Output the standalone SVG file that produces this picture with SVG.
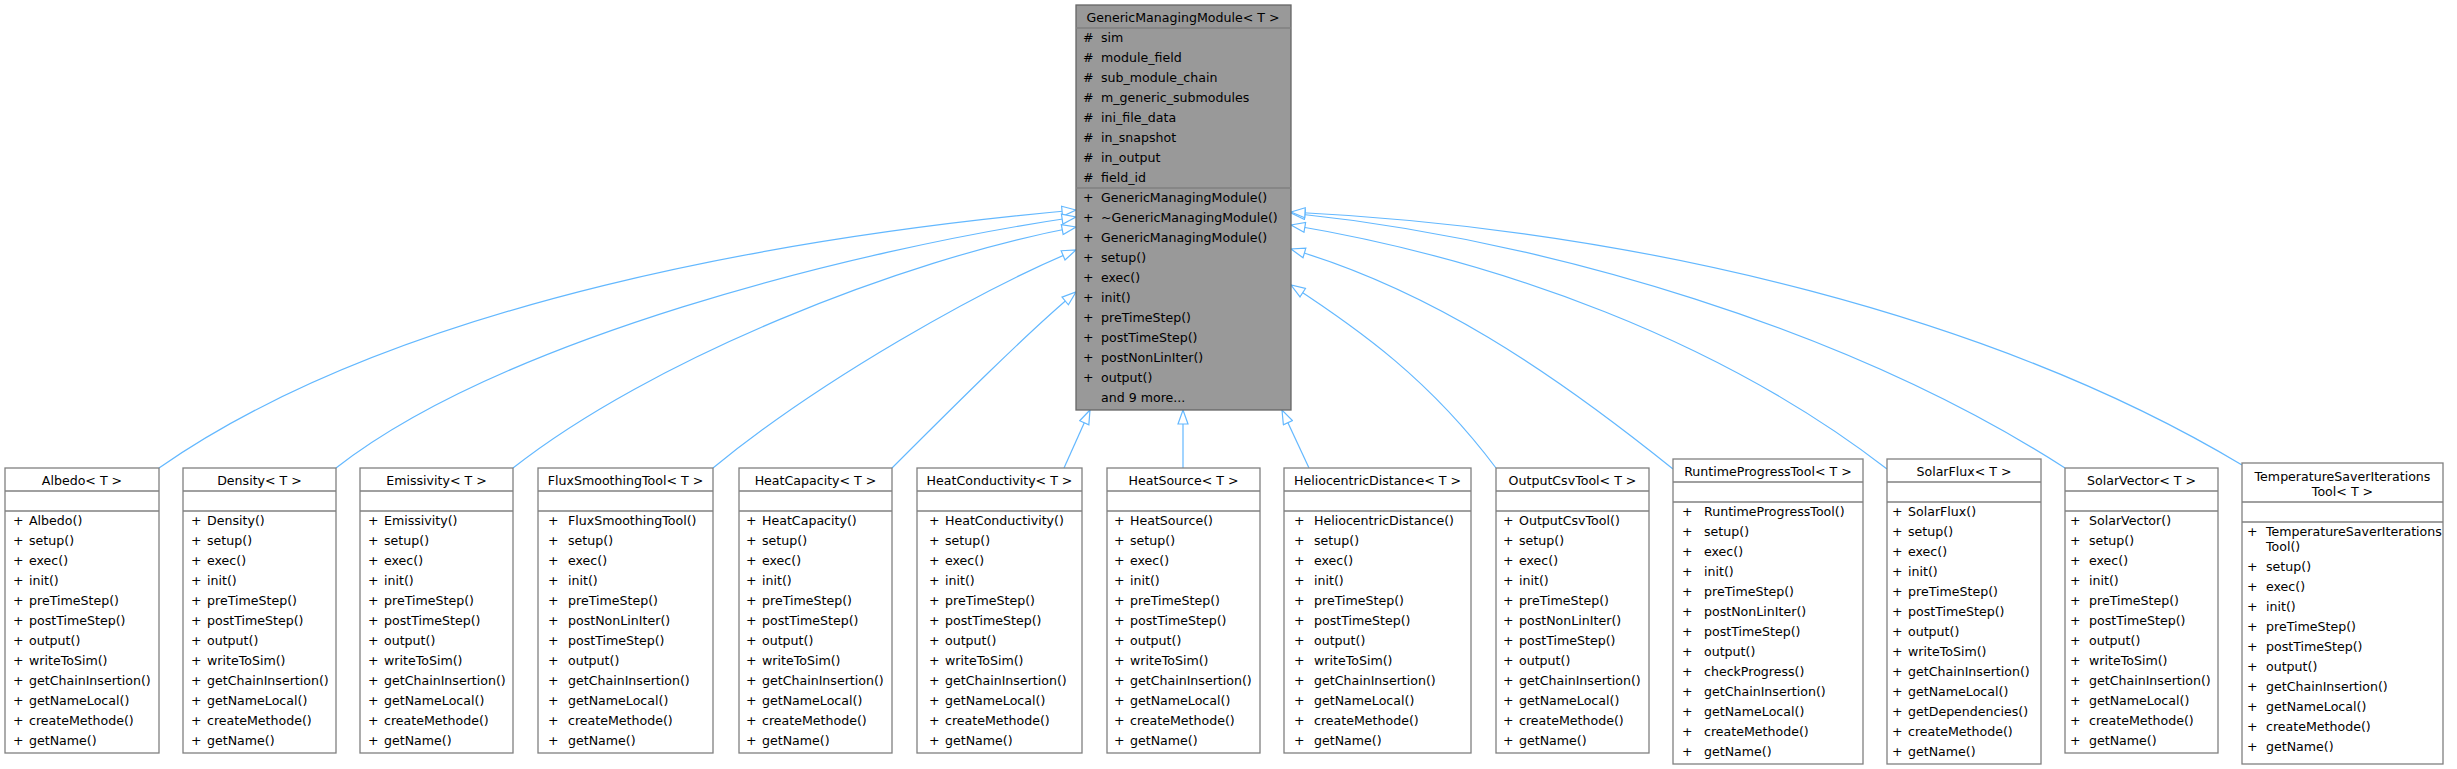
<svg xmlns="http://www.w3.org/2000/svg" width="2457" height="769" viewBox="0 0 2457 769">
<style>
text{font-family:"DejaVu Sans","Liberation Sans",sans-serif;font-size:12.6px;fill:#000}
.t{text-anchor:middle}
.b{fill:#fff;stroke:#808080;stroke-width:1.3}
.g{fill:#999;stroke:#666;stroke-width:1.3}
.l{stroke:#808080;stroke-width:1.3}
.e{fill:none;stroke:#63b8ff;stroke-width:1.2;marker-end:url(#a)}
</style>
<defs>
<marker id="a" markerWidth="16" markerHeight="12" refX="15" refY="6" orient="auto" markerUnits="userSpaceOnUse">
<path d="M1,1 L15,6 L1,11 Z" fill="#fff" stroke="#63b8ff" stroke-width="1.2"/>
</marker>
</defs>
<g id="edges">
<path class="e" d="M159,468 C400,300 800,235 1076,210"/>
<path class="e" d="M336,468 C500,340 850,250 1076,217"/>
<path class="e" d="M513,468 C650,360 900,260 1076,227"/>
<path class="e" d="M713,468 C820,380 980,290 1076,250"/>
<path class="e" d="M892,468 C950,410 1030,330 1076,292"/>
<path class="e" d="M1064,468 L1090,410"/>
<path class="e" d="M1183,468 L1183,410"/>
<path class="e" d="M1309,468 L1282,410"/>
<path class="e" d="M1496,468 C1430,380 1360,330 1291,285"/>
<path class="e" d="M1673,469 C1550,370 1430,290 1291,249"/>
<path class="e" d="M1887,469 C1720,340 1500,260 1291,225"/>
<path class="e" d="M2065,468 C1850,330 1550,240 1291,213"/>
<path class="e" d="M2242,465 C2000,320 1650,230 1291,212"/>
</g>
<g id="GenericManagingModule">
<rect class="g" x="1076" y="5" width="215" height="405"/>
<line class="l" x1="1076" y1="28" x2="1291" y2="28" stroke="#666"/>
<line class="l" x1="1076" y1="188" x2="1291" y2="188" stroke="#666"/>
<text class="t" x="1183" y="22">GenericManagingModule&lt; T &gt;</text>
<text x="1083" y="42">#</text><text x="1101" y="42">sim</text>
<text x="1083" y="62">#</text><text x="1101" y="62">module_field</text>
<text x="1083" y="82">#</text><text x="1101" y="82">sub_module_chain</text>
<text x="1083" y="102">#</text><text x="1101" y="102">m_generic_submodules</text>
<text x="1083" y="122">#</text><text x="1101" y="122">ini_file_data</text>
<text x="1083" y="142">#</text><text x="1101" y="142">in_snapshot</text>
<text x="1083" y="162">#</text><text x="1101" y="162">in_output</text>
<text x="1083" y="182">#</text><text x="1101" y="182">field_id</text>
<text x="1083" y="202">+</text><text x="1101" y="202">GenericManagingModule()</text>
<text x="1083" y="222">+</text><text x="1101" y="222">~GenericManagingModule()</text>
<text x="1083" y="242">+</text><text x="1101" y="242">GenericManagingModule()</text>
<text x="1083" y="262">+</text><text x="1101" y="262">setup()</text>
<text x="1083" y="282">+</text><text x="1101" y="282">exec()</text>
<text x="1083" y="302">+</text><text x="1101" y="302">init()</text>
<text x="1083" y="322">+</text><text x="1101" y="322">preTimeStep()</text>
<text x="1083" y="342">+</text><text x="1101" y="342">postTimeStep()</text>
<text x="1083" y="362">+</text><text x="1101" y="362">postNonLinIter()</text>
<text x="1083" y="382">+</text><text x="1101" y="382">output()</text>
<text x="1101" y="402">and 9 more...</text>
</g>
<g id="Albedo">
<rect class="b" x="5" y="468" width="154" height="285"/>
<line class="l" x1="5" y1="491" x2="159" y2="491"/><line class="l" x1="5" y1="511" x2="159" y2="511"/>
<text class="t" x="82" y="485">Albedo&lt; T &gt;</text>
<g transform="translate(13,0)"><text y="525">+</text><text y="545">+</text><text y="565">+</text><text y="585">+</text><text y="605">+</text><text y="625">+</text><text y="645">+</text><text y="665">+</text><text y="685">+</text><text y="705">+</text><text y="725">+</text><text y="745">+</text></g>
<g transform="translate(29,0)"><text y="525">Albedo()</text><text y="545">setup()</text><text y="565">exec()</text><text y="585">init()</text><text y="605">preTimeStep()</text><text y="625">postTimeStep()</text><text y="645">output()</text><text y="665">writeToSim()</text><text y="685">getChainInsertion()</text><text y="705">getNameLocal()</text><text y="725">createMethode()</text><text y="745">getName()</text></g>
</g>
<g id="Density">
<rect class="b" x="183" y="468" width="153" height="285"/>
<line class="l" x1="183" y1="491" x2="336" y2="491"/><line class="l" x1="183" y1="511" x2="336" y2="511"/>
<text class="t" x="259.5" y="485">Density&lt; T &gt;</text>
<g transform="translate(191,0)"><text y="525">+</text><text y="545">+</text><text y="565">+</text><text y="585">+</text><text y="605">+</text><text y="625">+</text><text y="645">+</text><text y="665">+</text><text y="685">+</text><text y="705">+</text><text y="725">+</text><text y="745">+</text></g>
<g transform="translate(207,0)"><text y="525">Density()</text><text y="545">setup()</text><text y="565">exec()</text><text y="585">init()</text><text y="605">preTimeStep()</text><text y="625">postTimeStep()</text><text y="645">output()</text><text y="665">writeToSim()</text><text y="685">getChainInsertion()</text><text y="705">getNameLocal()</text><text y="725">createMethode()</text><text y="745">getName()</text></g>
</g>
<g id="Emissivity">
<rect class="b" x="360" y="468" width="153" height="285"/>
<line class="l" x1="360" y1="491" x2="513" y2="491"/><line class="l" x1="360" y1="511" x2="513" y2="511"/>
<text class="t" x="436.5" y="485">Emissivity&lt; T &gt;</text>
<g transform="translate(368,0)"><text y="525">+</text><text y="545">+</text><text y="565">+</text><text y="585">+</text><text y="605">+</text><text y="625">+</text><text y="645">+</text><text y="665">+</text><text y="685">+</text><text y="705">+</text><text y="725">+</text><text y="745">+</text></g>
<g transform="translate(384,0)"><text y="525">Emissivity()</text><text y="545">setup()</text><text y="565">exec()</text><text y="585">init()</text><text y="605">preTimeStep()</text><text y="625">postTimeStep()</text><text y="645">output()</text><text y="665">writeToSim()</text><text y="685">getChainInsertion()</text><text y="705">getNameLocal()</text><text y="725">createMethode()</text><text y="745">getName()</text></g>
</g>
<g id="FluxSmoothingTool">
<rect class="b" x="538" y="468" width="175" height="285"/>
<line class="l" x1="538" y1="491" x2="713" y2="491"/><line class="l" x1="538" y1="511" x2="713" y2="511"/>
<text class="t" x="625.5" y="485">FluxSmoothingTool&lt; T &gt;</text>
<g transform="translate(548,0)"><text y="525">+</text><text y="545">+</text><text y="565">+</text><text y="585">+</text><text y="605">+</text><text y="625">+</text><text y="645">+</text><text y="665">+</text><text y="685">+</text><text y="705">+</text><text y="725">+</text><text y="745">+</text></g>
<g transform="translate(568,0)"><text y="525">FluxSmoothingTool()</text><text y="545">setup()</text><text y="565">exec()</text><text y="585">init()</text><text y="605">preTimeStep()</text><text y="625">postNonLinIter()</text><text y="645">postTimeStep()</text><text y="665">output()</text><text y="685">getChainInsertion()</text><text y="705">getNameLocal()</text><text y="725">createMethode()</text><text y="745">getName()</text></g>
</g>
<g id="HeatCapacity">
<rect class="b" x="739" y="468" width="153" height="285"/>
<line class="l" x1="739" y1="491" x2="892" y2="491"/><line class="l" x1="739" y1="511" x2="892" y2="511"/>
<text class="t" x="815.5" y="485">HeatCapacity&lt; T &gt;</text>
<g transform="translate(746,0)"><text y="525">+</text><text y="545">+</text><text y="565">+</text><text y="585">+</text><text y="605">+</text><text y="625">+</text><text y="645">+</text><text y="665">+</text><text y="685">+</text><text y="705">+</text><text y="725">+</text><text y="745">+</text></g>
<g transform="translate(762,0)"><text y="525">HeatCapacity()</text><text y="545">setup()</text><text y="565">exec()</text><text y="585">init()</text><text y="605">preTimeStep()</text><text y="625">postTimeStep()</text><text y="645">output()</text><text y="665">writeToSim()</text><text y="685">getChainInsertion()</text><text y="705">getNameLocal()</text><text y="725">createMethode()</text><text y="745">getName()</text></g>
</g>
<g id="HeatConductivity">
<rect class="b" x="917" y="468" width="165" height="285"/>
<line class="l" x1="917" y1="491" x2="1082" y2="491"/><line class="l" x1="917" y1="511" x2="1082" y2="511"/>
<text class="t" x="999.5" y="485">HeatConductivity&lt; T &gt;</text>
<g transform="translate(929,0)"><text y="525">+</text><text y="545">+</text><text y="565">+</text><text y="585">+</text><text y="605">+</text><text y="625">+</text><text y="645">+</text><text y="665">+</text><text y="685">+</text><text y="705">+</text><text y="725">+</text><text y="745">+</text></g>
<g transform="translate(945,0)"><text y="525">HeatConductivity()</text><text y="545">setup()</text><text y="565">exec()</text><text y="585">init()</text><text y="605">preTimeStep()</text><text y="625">postTimeStep()</text><text y="645">output()</text><text y="665">writeToSim()</text><text y="685">getChainInsertion()</text><text y="705">getNameLocal()</text><text y="725">createMethode()</text><text y="745">getName()</text></g>
</g>
<g id="HeatSource">
<rect class="b" x="1107" y="468" width="153" height="285"/>
<line class="l" x1="1107" y1="491" x2="1260" y2="491"/><line class="l" x1="1107" y1="511" x2="1260" y2="511"/>
<text class="t" x="1183.5" y="485">HeatSource&lt; T &gt;</text>
<g transform="translate(1114,0)"><text y="525">+</text><text y="545">+</text><text y="565">+</text><text y="585">+</text><text y="605">+</text><text y="625">+</text><text y="645">+</text><text y="665">+</text><text y="685">+</text><text y="705">+</text><text y="725">+</text><text y="745">+</text></g>
<g transform="translate(1130,0)"><text y="525">HeatSource()</text><text y="545">setup()</text><text y="565">exec()</text><text y="585">init()</text><text y="605">preTimeStep()</text><text y="625">postTimeStep()</text><text y="645">output()</text><text y="665">writeToSim()</text><text y="685">getChainInsertion()</text><text y="705">getNameLocal()</text><text y="725">createMethode()</text><text y="745">getName()</text></g>
</g>
<g id="HeliocentricDistance">
<rect class="b" x="1284" y="468" width="187" height="285"/>
<line class="l" x1="1284" y1="491" x2="1471" y2="491"/><line class="l" x1="1284" y1="511" x2="1471" y2="511"/>
<text class="t" x="1377.5" y="485">HeliocentricDistance&lt; T &gt;</text>
<g transform="translate(1294,0)"><text y="525">+</text><text y="545">+</text><text y="565">+</text><text y="585">+</text><text y="605">+</text><text y="625">+</text><text y="645">+</text><text y="665">+</text><text y="685">+</text><text y="705">+</text><text y="725">+</text><text y="745">+</text></g>
<g transform="translate(1314,0)"><text y="525">HeliocentricDistance()</text><text y="545">setup()</text><text y="565">exec()</text><text y="585">init()</text><text y="605">preTimeStep()</text><text y="625">postTimeStep()</text><text y="645">output()</text><text y="665">writeToSim()</text><text y="685">getChainInsertion()</text><text y="705">getNameLocal()</text><text y="725">createMethode()</text><text y="745">getName()</text></g>
</g>
<g id="OutputCsvTool">
<rect class="b" x="1496" y="468" width="153" height="285"/>
<line class="l" x1="1496" y1="491" x2="1649" y2="491"/><line class="l" x1="1496" y1="511" x2="1649" y2="511"/>
<text class="t" x="1572.5" y="485">OutputCsvTool&lt; T &gt;</text>
<g transform="translate(1503,0)"><text y="525">+</text><text y="545">+</text><text y="565">+</text><text y="585">+</text><text y="605">+</text><text y="625">+</text><text y="645">+</text><text y="665">+</text><text y="685">+</text><text y="705">+</text><text y="725">+</text><text y="745">+</text></g>
<g transform="translate(1519,0)"><text y="525">OutputCsvTool()</text><text y="545">setup()</text><text y="565">exec()</text><text y="585">init()</text><text y="605">preTimeStep()</text><text y="625">postNonLinIter()</text><text y="645">postTimeStep()</text><text y="665">output()</text><text y="685">getChainInsertion()</text><text y="705">getNameLocal()</text><text y="725">createMethode()</text><text y="745">getName()</text></g>
</g>
<g id="RuntimeProgressTool">
<rect class="b" x="1673" y="459" width="190" height="305"/>
<line class="l" x1="1673" y1="482" x2="1863" y2="482"/><line class="l" x1="1673" y1="502" x2="1863" y2="502"/>
<text class="t" x="1768" y="476">RuntimeProgressTool&lt; T &gt;</text>
<g transform="translate(1682,0)"><text y="516">+</text><text y="536">+</text><text y="556">+</text><text y="576">+</text><text y="596">+</text><text y="616">+</text><text y="636">+</text><text y="656">+</text><text y="676">+</text><text y="696">+</text><text y="716">+</text><text y="736">+</text><text y="756">+</text></g>
<g transform="translate(1704,0)"><text y="516">RuntimeProgressTool()</text><text y="536">setup()</text><text y="556">exec()</text><text y="576">init()</text><text y="596">preTimeStep()</text><text y="616">postNonLinIter()</text><text y="636">postTimeStep()</text><text y="656">output()</text><text y="676">checkProgress()</text><text y="696">getChainInsertion()</text><text y="716">getNameLocal()</text><text y="736">createMethode()</text><text y="756">getName()</text></g>
</g>
<g id="SolarFlux">
<rect class="b" x="1887" y="459" width="154" height="305"/>
<line class="l" x1="1887" y1="482" x2="2041" y2="482"/><line class="l" x1="1887" y1="502" x2="2041" y2="502"/>
<text class="t" x="1964" y="476">SolarFlux&lt; T &gt;</text>
<g transform="translate(1892,0)"><text y="516">+</text><text y="536">+</text><text y="556">+</text><text y="576">+</text><text y="596">+</text><text y="616">+</text><text y="636">+</text><text y="656">+</text><text y="676">+</text><text y="696">+</text><text y="716">+</text><text y="736">+</text><text y="756">+</text></g>
<g transform="translate(1908,0)"><text y="516">SolarFlux()</text><text y="536">setup()</text><text y="556">exec()</text><text y="576">init()</text><text y="596">preTimeStep()</text><text y="616">postTimeStep()</text><text y="636">output()</text><text y="656">writeToSim()</text><text y="676">getChainInsertion()</text><text y="696">getNameLocal()</text><text y="716">getDependencies()</text><text y="736">createMethode()</text><text y="756">getName()</text></g>
</g>
<g id="SolarVector">
<rect class="b" x="2065" y="468" width="153" height="285"/>
<line class="l" x1="2065" y1="491" x2="2218" y2="491"/><line class="l" x1="2065" y1="511" x2="2218" y2="511"/>
<text class="t" x="2141.5" y="485">SolarVector&lt; T &gt;</text>
<g transform="translate(2070,0)"><text y="525">+</text><text y="545">+</text><text y="565">+</text><text y="585">+</text><text y="605">+</text><text y="625">+</text><text y="645">+</text><text y="665">+</text><text y="685">+</text><text y="705">+</text><text y="725">+</text><text y="745">+</text></g>
<g transform="translate(2089,0)"><text y="525">SolarVector()</text><text y="545">setup()</text><text y="565">exec()</text><text y="585">init()</text><text y="605">preTimeStep()</text><text y="625">postTimeStep()</text><text y="645">output()</text><text y="665">writeToSim()</text><text y="685">getChainInsertion()</text><text y="705">getNameLocal()</text><text y="725">createMethode()</text><text y="745">getName()</text></g>
</g>
<g id="TemperatureSaverIterationsTool">
<rect class="b" x="2242" y="463" width="201" height="301"/>
<line class="l" x1="2242" y1="502" x2="2443" y2="502"/><line class="l" x1="2242" y1="522" x2="2443" y2="522"/>
<text class="t" x="2342.5" y="481">TemperatureSaverIterations</text>
<text class="t" x="2342.5" y="496">Tool&lt; T &gt;</text>
<g transform="translate(2247,0)"><text y="536">+</text><text y="571">+</text><text y="591">+</text><text y="611">+</text><text y="631">+</text><text y="651">+</text><text y="671">+</text><text y="691">+</text><text y="711">+</text><text y="731">+</text><text y="751">+</text></g>
<g transform="translate(2266,0)"><text y="536">TemperatureSaverIterations</text><text y="551">Tool()</text><text y="571">setup()</text><text y="591">exec()</text><text y="611">init()</text><text y="631">preTimeStep()</text><text y="651">postTimeStep()</text><text y="671">output()</text><text y="691">getChainInsertion()</text><text y="711">getNameLocal()</text><text y="731">createMethode()</text><text y="751">getName()</text></g>
</g>
</svg>
